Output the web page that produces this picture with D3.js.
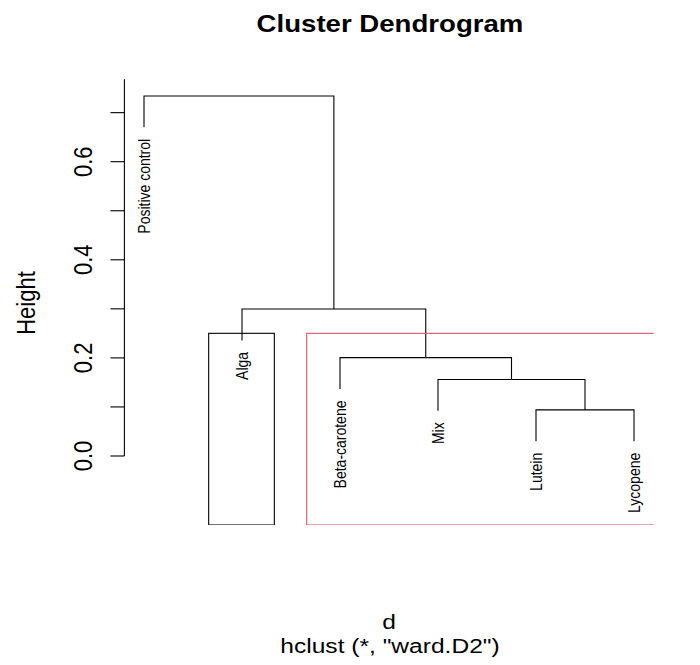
<!DOCTYPE html>
<html>
<head>
<meta charset="utf-8">
<script src="https://cdn.jsdelivr.net/npm/d3@7"></script>
<style>
  body { margin: 0; background: #fff; }
  svg text { font-family: "Liberation Sans", Arial, Helvetica, sans-serif; fill: #000; }
</style>
</head>
<body>
<div id="chart"></div>
<script>
// leaves, in the order they are drawn
var labels = ["Positive control", "Alga", "Beta-carotene", "Mix", "Lutein", "Lycopene"];
// merge matrix like R hclust: negative = leaf (1-based), positive = earlier merge
var merges = [[-5, -6], [-4, 1], [-3, 2], [-2, 3], [-1, 4]];
var heights = [0.094, 0.156, 0.2005, 0.2997, 0.734];
var hang = 0.1;
var yTicks = [0.0, 0.1, 0.2, 0.3, 0.4, 0.5, 0.6, 0.7];
var yTickLabels = [0.0, 0.2, 0.4, 0.6];
// rect.hclust(k = 3) for clusters 2 and 3
var rectClusters = [
  { from: 2, to: 2, color: "#000000" },
  { from: 3, to: 6, color: "#DF536B" }
];

var width = 700, height = 665;
var sx = 1.17; // text in the picture is a bit wider than tall

var x = d3.scaleLinear().domain([0.8, 6.2]).range([124.4, 653.6]);
var y = d3.scaleLinear().domain([-0.1407, 0.768]).range([525, 79.3]);

var svg = d3.select("#chart").append("svg")
  .attr("width", width).attr("height", height);

svg.append("clipPath").attr("id", "plotClip")
  .append("rect")
  .attr("x", x(0.8)).attr("y", y(0.768))
  .attr("width", x(6.2) - x(0.8)).attr("height", y(-0.1407) - y(0.768));

// node positions
var leafDrop = hang * (d3.max(heights) - d3.min(heights));
var nodes = [];
function nodeOf(id) {
  if (id < 0) return { x: x(-id), leaf: true, idx: -id - 1 };
  return nodes[id - 1];
}
merges.forEach(function (m, i) {
  var a = nodeOf(m[0]), b = nodeOf(m[1]);
  nodes.push({ x: (a.x + b.x) / 2, h: heights[i], kids: [a, b] });
});

var g = svg.append("g").attr("class", "tree")
  .attr("fill", "none").attr("stroke", "#000").attr("stroke-width", 1.1);

nodes.forEach(function (n) {
  var yTop = y(n.h);
  n.kids.forEach(function (k) {
    var yBot = k.leaf ? y(n.h - leafDrop) : y(k.h);
    if (k.leaf) k.bottom = n.h - leafDrop;
    g.append("path").attr("d", "M" + k.x + "," + yBot + "V" + yTop + "H" + n.x);
  });
});

// leaf labels
var leaves = [];
function collect(n) {
  if (n.leaf) leaves.push(n);
  else n.kids.forEach(collect);
}
collect(nodes[nodes.length - 1]);

svg.append("g").selectAll("text")
  .data(leaves)
  .join("text")
  .attr("transform", function (d) {
    return "translate(" + d.x + "," + (y(d.bottom) + 11.5) + ") scale(" + sx + ",1) rotate(-90)";
  })
  .attr("text-anchor", "end")
  .attr("dy", "0.36em")
  .style("font-size", "14px")
  .text(function (d) { return labels[d.idx]; });

// rect.hclust boxes
var rectTop = d3.mean(heights.slice().reverse().slice(1, 3));
svg.append("g").attr("clip-path", "url(#plotClip)")
  .selectAll("rect")
  .data(rectClusters)
  .join("rect")
  .attr("x", function (d) { return x(d.from - 1 + 0.66); })
  .attr("y", y(rectTop))
  .attr("width", function (d) { return x(d.to + 0.33) - x(d.from - 1 + 0.66); })
  .attr("height", y(-0.1407) - y(rectTop))
  .attr("fill", "none")
  .attr("stroke", function (d) { return d.color; })
  .attr("stroke-width", 1.1);

// y axis
var ax = svg.append("g").attr("stroke", "#000").attr("stroke-width", 1.1);
ax.append("line")
  .attr("x1", x(0.8)).attr("x2", x(0.8))
  .attr("y1", y(0.768)).attr("y2", y(0));
ax.selectAll("line.tick")
  .data(yTicks)
  .join("line")
  .attr("class", "tick")
  .attr("x1", x(0.8) - 14).attr("x2", x(0.8))
  .attr("y1", function (d) { return y(d); })
  .attr("y2", function (d) { return y(d); });

svg.append("g").selectAll("text")
  .data(yTickLabels)
  .join("text")
  .attr("transform", function (d) {
    return "translate(92," + y(d) + ") scale(" + sx + ",1) rotate(-90)";
  })
  .attr("text-anchor", "middle")
  .style("font-size", "22px")
  .text(function (d) { return d3.format(".1f")(d); });

// titles
svg.append("text")
  .attr("transform", "translate(390,32.3) scale(" + sx + ",1)")
  .attr("text-anchor", "middle")
  .style("font-size", "23.6px").style("font-weight", "bold")
  .text("Cluster Dendrogram");

svg.append("text")
  .attr("transform", "translate(35,303) scale(" + sx + ",1) rotate(-90)")
  .attr("text-anchor", "middle")
  .style("font-size", "22px")
  .text("Height");

svg.append("text")
  .attr("transform", "translate(389,628.5) scale(" + sx + ",1)")
  .attr("text-anchor", "middle")
  .style("font-size", "21px")
  .text("d");

svg.append("text")
  .attr("transform", "translate(390,652.5) scale(" + sx + ",1)")
  .attr("text-anchor", "middle")
  .style("font-size", "21px")
  .text('hclust (*, "ward.D2")');
</script>
</body>
</html>
